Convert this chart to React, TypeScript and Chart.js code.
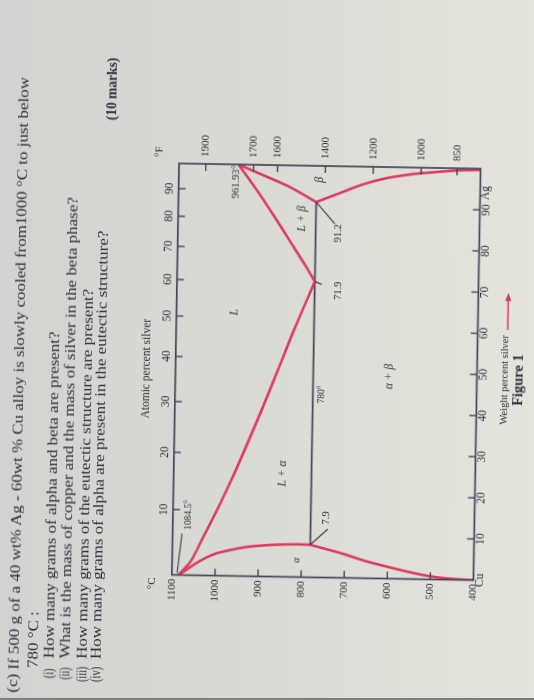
import React, { useEffect, useLayoutEffect, useRef } from "react";
import { Chart, registerables } from "chart.js";

Chart.register(...registerables);

// ---------- axis ticks ----------
const weightTicks = [0, 10, 20, 30, 40, 50, 60, 70, 80, 90];
const weightTickLabels = ["Cu", "10", "20", "30", "40", "50", "60", "70", "80", "90"];
const celsiusTicks = [400, 500, 600, 700, 800, 900, 1000, 1100];
const atomicTicks = [10, 20, 30, 40, 50, 60, 70, 80, 90];
const fahrenheitTicks = [850, 1000, 1200, 1400, 1600, 1700, 1900];

// ---------- phase boundaries (wt% Ag, °C) ----------
const liquidusCuWt = [0, 3.5, 9.5, 17, 24.5, 32.5, 40, 47.5, 55, 63, 71.9];
const liquidusCuT = [1084.5, 1056, 1028, 993, 961, 929, 900, 872, 845, 815, 780];
const solidusCuWt = [0, 3.2, 5.2, 6.3, 7.2, 7.7, 7.95, 7.9];
const solidusCuT = [1084.5, 1040, 1003, 965, 921, 869, 817, 780];
const solvusCuWt = [7.9, 5.9, 4.2, 2.8, 1.4, 0.5, 0.1, 0];
const solvusCuT = [780, 706, 652, 597, 536, 482, 428, 400];
const liquidusAgWt = [100, 93.8, 87.4, 80.1, 75.8, 71.9];
const liquidusAgT = [961.93, 918, 876, 830, 803, 780];
const solidusAgWt = [100, 97.5, 94.8, 91.2];
const solidusAgT = [961.93, 904, 843, 780];
const solvusAgWt = [91.2, 93.5, 95.7, 97.3, 98.4, 99.0, 99.5, 99.7];
const solvusAgT = [780, 725, 672, 618, 557, 503, 449, 400];
const eutecticWt = [7.9, 91.2];
const eutecticT = [780, 780];

// ---------- in-plot labels (text, wt%, °C) ----------
const labelTexts = ["1084.5°", "961.93°", "L + β", "β", "L", "71.9", "91.2", "780°", "α + β", "L + α", "α", "7.9"];
const labelWt = [11, 99.8, 87.1, 96.6, 64.1, 69.7, 83.7, 44.5, 49.1, 25.1, 4.1, 14.5];
const labelT = [1064, 967, 812, 772, 964, 725, 728, 760, 602, 847, 811, 745];
const leaderFromWt = [10.1, 71.9, 91.2, 7.9];
const leaderFromT = [1078, 780, 780, 780];
const leaderToWt = [0.5, 71.2, 86.0, 11.8];
const leaderToT = [1088, 764, 736, 740];

// ---------- question text ----------
const questionLines = [
  "(c)",
  "If 500 g of a 40 wt% Ag - 60wt % Cu alloy is slowly cooled from1000 °C to just below",
  "780 °C :",
  "How many grams of alpha and beta are present?",
  "What is the mass of copper and the mass of silver in the beta phase?",
  "How many grams of the eutectic structure are present?",
  "How many grams of alpha are present in the eutectic structure?",
];
const itemLabels = ["(i)", "(ii)", "(iii)", "(iv)"];

const SERIF = '"Liberation Serif", "Times New Roman", serif';
const RED = "#dc3a5f";
const INK = "#2c2e38";
const FRAME = "#41465a";

const atomicToWeight = (a: number) => (100 * a * 107.87) / (a * 107.87 + (100 - a) * 63.55);
const fToC = (f: number) => ((f - 32) * 5) / 9;
const pairs = (xs: number[], ys: number[]) => xs.map((x, i) => ({ x, y: ys[i] }));

const curve = (xs: number[], ys: number[], color: string, width: number, tension: number) => ({
  data: pairs(xs, ys),
  showLine: true,
  borderColor: color,
  backgroundColor: color,
  borderWidth: width,
  pointRadius: 0,
  tension,
  fill: false,
});

const labelStyle = (i: number) => {
  const t = labelTexts[i];
  const italic = /[Lαβ]/.test(t);
  let size = 10.5;
  if (t === "1084.5°" || t === "780°") size = 9.5;
  if (italic) size = 11.5;
  if (t === "α") size = 10;
  return { italic, size };
};

const framePlugin = {
  id: "phaseFrame",
  afterDatasetsDraw(chart: any) {
    const { ctx, chartArea: a, scales } = chart;
    const line = (x1: number, y1: number, x2: number, y2: number) => {
      ctx.beginPath();
      ctx.moveTo(x1, y1);
      ctx.lineTo(x2, y2);
      ctx.stroke();
    };
    ctx.save();
    ctx.strokeStyle = FRAME;
    ctx.lineWidth = 1.7;
    ctx.strokeRect(a.left, a.top, a.right - a.left, a.bottom - a.top);
    ctx.lineWidth = 1.4;
    const L = 7;
    weightTicks.forEach((w) => {
      if (w <= 0 || w >= 100) return;
      const x = scales.x.getPixelForValue(w);
      line(x, a.bottom, x, a.bottom - L);
    });
    atomicTicks.forEach((at) => {
      const x = scales.x2.getPixelForValue(atomicToWeight(at));
      line(x, a.top, x, a.top + L);
    });
    celsiusTicks.forEach((c) => {
      if (c <= 400 || c >= 1100) return;
      const y = scales.y.getPixelForValue(c);
      line(a.left, y, a.left + L, y);
    });
    fahrenheitTicks.forEach((f) => {
      const y = scales.y2.getPixelForValue(fToC(f));
      line(a.right, y, a.right - L, y);
    });

    // leader lines
    ctx.lineWidth = 1.1;
    ctx.strokeStyle = INK;
    leaderFromWt.forEach((w, i) => {
      line(
        scales.x.getPixelForValue(w),
        scales.y.getPixelForValue(leaderFromT[i]),
        scales.x.getPixelForValue(leaderToWt[i]),
        scales.y.getPixelForValue(leaderToT[i])
      );
    });

    // in-plot labels
    ctx.fillStyle = INK;
    ctx.textBaseline = "middle";
    labelTexts.forEach((t, i) => {
      const st = labelStyle(i);
      ctx.font = `${st.italic ? "italic " : ""}${st.size}px ${SERIF}`;
      ctx.textAlign = t === "1084.5°" ? "left" : t === "961.93°" ? "right" : "center";
      ctx.fillText(t, scales.x.getPixelForValue(labelWt[i]), scales.y.getPixelForValue(labelT[i]));
    });

    // axis extras
    const cx = (a.left + a.right) / 2;
    ctx.font = `11px ${SERIF}`;
    ctx.textAlign = "right";
    ctx.fillText("°C", a.left - 3, a.top - 20);
    ctx.textAlign = "left";
    ctx.fillText("°F", a.right + 6, a.top - 20);
    ctx.textAlign = "center";
    ctx.font = `11.5px ${SERIF}`;
    ctx.fillText("Ag", scales.x.getPixelForValue(94.1), a.bottom + 6);
    ctx.font = `11.5px ${SERIF}`;
    ctx.fillText("Atomic percent silver", cx, a.top - 28.5);
    ctx.font = `10.5px ${SERIF}`;
    ctx.fillText("Weight percent silver", cx - 5, a.bottom + 27.5);
    ctx.font = `bold 14.5px ${SERIF}`;
    ctx.fillText("Figure 1", cx - 5, a.bottom + 41.5);

    // red arrow
    const ay = a.bottom + 30;
    const ax1 = cx + 45;
    const ax2 = cx + 82;
    ctx.strokeStyle = RED;
    ctx.fillStyle = RED;
    ctx.lineWidth = 1.6;
    line(ax1, ay, ax2 - 6, ay);
    ctx.beginPath();
    ctx.moveTo(ax2, ay);
    ctx.lineTo(ax2 - 8, ay - 3.2);
    ctx.lineTo(ax2 - 8, ay + 3.2);
    ctx.closePath();
    ctx.fill();
    ctx.restore();
  },
};

// upright-page placement of each question line: left edge and vertical middle
const lineLeft = [3, 26, 28, 38, 38, 38, 38];
const lineMid = [18, 18.5, 37.5, 53.5, 69.5, 86.5, 100.5];
const itemLeft = [18, 17, 15, 15];
const itemRight = [28, 29, 30, 30];
const itemMid = [53.5, 70, 86.5, 101];
const LINE_ONE_WIDTH = 593;
const TEXT_SIZE = 15.5;

export default function App() {
  const canvasRef = useRef<HTMLCanvasElement>(null);
  const textRef = useRef<HTMLDivElement>(null);

  useLayoutEffect(() => {
    const root = textRef.current;
    if (!root) return;
    const spans = Array.from(root.querySelectorAll("span[data-q]")) as HTMLElement[];
    const ref = spans[1];
    const k = ref && ref.offsetWidth > 0 ? LINE_ONE_WIDTH / ref.offsetWidth : 1;
    spans.forEach((el) => {
      el.style.transform = `scaleX(${k})`;
    });
    const fits = Array.from(root.querySelectorAll("span[data-fit]")) as HTMLElement[];
    fits.forEach((el) => {
      const target = Number(el.getAttribute("data-fit"));
      if (el.offsetWidth > 0) el.style.transform = `scaleX(${target / el.offsetWidth})`;
    });
  }, []);

  useEffect(() => {
    const canvas = canvasRef.current;
    if (!canvas) return;
    const tickFont = { family: SERIF, size: 11 };
    const common = {
      type: "linear" as const,
      grid: { display: false, drawTicks: false },
      border: { display: false },
    };
    const chart = new Chart(canvas, {
      type: "scatter",
      data: {
        datasets: [
          curve(liquidusCuWt, liquidusCuT, RED, 2.6, 0.3),
          curve(solidusCuWt, solidusCuT, RED, 2.6, 0.3),
          curve(solvusCuWt, solvusCuT, RED, 2.6, 0.3),
          curve(liquidusAgWt, liquidusAgT, RED, 2.6, 0.3),
          curve(solidusAgWt, solidusAgT, RED, 2.6, 0.3),
          curve(solvusAgWt, solvusAgT, RED, 2.6, 0.3),
          curve(eutecticWt, eutecticT, FRAME, 1.7, 0),
        ] as any,
      },
      options: {
        animation: false,
        responsive: false,
        maintainAspectRatio: false,
        layout: { padding: { left: 83.5, right: 125, top: 145.8, bottom: 26.6 } },
        plugins: { legend: { display: false }, tooltip: { enabled: false } },
        scales: {
          x: {
            ...common,
            position: "bottom",
            min: 0,
            max: 100,
            afterBuildTicks: (s: any) => {
              s.ticks = weightTicks.map((v) => ({ value: v }));
            },
            afterFit: (s: any) => {
              s.height = 30;
            },
            ticks: {
              autoSkip: false,
              maxRotation: 0,
              padding: 0,
              color: INK,
              font: { family: SERIF, size: 11.5 },
              callback: (_v: any, i: number) => weightTickLabels[i],
            },
          },
          x2: {
            ...common,
            position: "top",
            min: 0,
            max: 100,
            afterBuildTicks: (s: any) => {
              s.ticks = atomicTicks.map((v) => ({ value: atomicToWeight(v) }));
            },
            afterFit: (s: any) => {
              s.height = 30;
            },
            ticks: {
              autoSkip: false,
              maxRotation: 0,
              padding: 2,
              color: INK,
              font: { family: SERIF, size: 11.5 },
              callback: (_v: any, i: number) => String(atomicTicks[i]),
            },
          },
          y: {
            ...common,
            position: "left",
            min: 400,
            max: 1100,
            afterBuildTicks: (s: any) => {
              s.ticks = celsiusTicks.map((v) => ({ value: v }));
            },
            afterFit: (s: any) => {
              s.width = 40;
            },
            ticks: {
              autoSkip: false,
              padding: 4,
              color: INK,
              font: tickFont,
              callback: (_v: any, i: number) => String(celsiusTicks[i]),
            },
          },
          y2: {
            ...common,
            position: "right",
            min: 400,
            max: 1100,
            afterBuildTicks: (s: any) => {
              s.ticks = fahrenheitTicks.map((f) => ({ value: fToC(f) }));
            },
            afterFit: (s: any) => {
              s.width = 40;
            },
            ticks: {
              autoSkip: false,
              padding: 7,
              color: INK,
              font: tickFont,
              callback: (_v: any, i: number) => String(fahrenheitTicks[i]),
            },
          },
        },
      } as any,
      plugins: [framePlugin],
    });
    return () => chart.destroy();
  }, []);

  const textStyle = (left: number, mid: number, size: number, bold: boolean) => ({
    position: "absolute" as const,
    left,
    top: mid - size * 0.575,
    fontSize: size,
    lineHeight: 1.15,
    whiteSpace: "nowrap" as const,
    display: "inline-block",
    transformOrigin: "0 50%",
    fontFamily: SERIF,
    fontWeight: bold ? 700 : 400,
    color: INK,
  });

  return (
    <div
      style={{
        position: "fixed",
        left: 0,
        top: 0,
        width: 534,
        height: 700,
        overflow: "hidden",
        background: "linear-gradient(to right, #d2d3d0 0%, #dadad5 45%, #e5e4dc 100%)",
        boxShadow: "inset 0 -2px 0 #7d7d7b",
      }}
    >
      <div
        ref={textRef}
        style={{
          position: "absolute",
          left: -83,
          top: 83,
          width: 700,
          height: 534,
          transformOrigin: "50% 50%",
          transform: "rotate(-89deg)",
        }}
      >
        <canvas
          ref={canvasRef}
          width={700}
          height={534}
          style={{ position: "absolute", left: 0, top: 0, width: 700, height: 534 }}
        />
        {questionLines.map((t, i) => (
          <span key={"q" + i} data-q="1" style={textStyle(lineLeft[i], lineMid[i], TEXT_SIZE, false)}>
            {t}
          </span>
        ))}
        {itemLabels.map((t, i) => (
          <span
            key={"i" + i}
            data-fit={String(itemRight[i] - itemLeft[i])}
            style={textStyle(itemLeft[i], itemMid[i], TEXT_SIZE, false)}
          >
            {t}
          </span>
        ))}
        <span data-fit="63" style={textStyle(577, 108, 15, true)}>
          (10 marks)
        </span>
      </div>
    </div>
  );
}
